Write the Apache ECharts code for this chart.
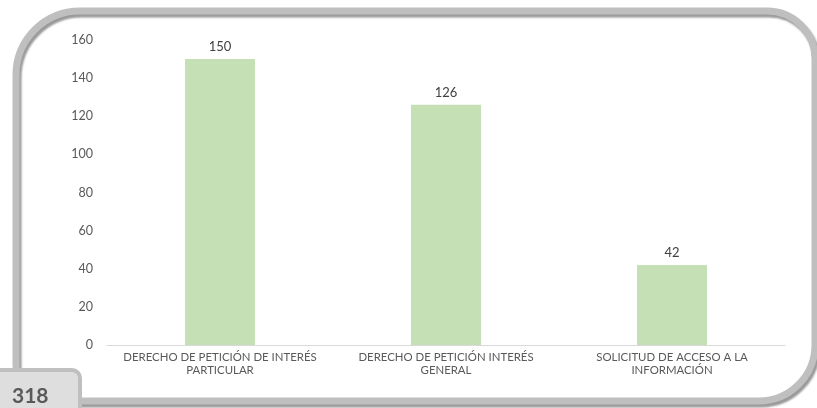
<!DOCTYPE html>
<html>
<head>
<meta charset="utf-8">
<script src="https://cdn.jsdelivr.net/npm/echarts@6/dist/echarts.min.js"></script>
<style>
html,body{margin:0;padding:0;background:#fff;}
#c{width:817px;height:408px;}
</style>
</head>
<body>
<div id="c"></div>
<script>
const categories = [
  "DERECHO DE PETICIÓN DE INTERÉS\nPARTICULAR",
  "DERECHO DE PETICIÓN INTERÉS\nGENERAL",
  "SOLICITUD DE ACCESO A LA\nINFORMACIÓN"
];
const values = [150, 126, 42];
const yTicks = { min: 0, max: 160, interval: 20 };
const pageNumber = "318";

const chart = echarts.init(document.getElementById('c'), null, { renderer: 'canvas' });
chart.setOption({
  backgroundColor: '#ffffff',
  animation: false,
  grid: { left: 107, right: 32, top: 40, bottom: 63 },
  xAxis: {
    type: 'category',
    data: categories,
    axisLine: { show: true, lineStyle: { color: '#d9d9d9', width: 1 } },
    axisTick: { show: false },
    axisLabel: {
      color: '#595959', fontFamily: 'Lato', fontSize: 11.4, lineHeight: 13,
      margin: 6, interval: 0
    }
  },
  yAxis: {
    type: 'value',
    min: yTicks.min, max: yTicks.max, interval: yTicks.interval,
    axisLine: { show: false },
    axisTick: { show: false },
    splitLine: { show: false },
    axisLabel: { color: '#595959', fontFamily: 'Lato', fontSize: 12.5, margin: 14 }
  },
  series: [{
    type: 'bar',
    data: values,
    barWidth: '31%',
    itemStyle: { color: '#c5e0b4' },
    label: {
      show: true, position: 'top', distance: 6,
      color: '#404040', fontFamily: 'Lato', fontSize: 13
    }
  }],
  graphic: [
    {
      type: 'rect', z: 100, silent: true,
      shape: { x: 16, y: 11, width: 799, height: 390, r: [64, 48, 56, 36] },
      style: {
        fill: 'none', stroke: '#bfbfbf', lineWidth: 7,
        shadowColor: 'rgba(0,0,0,0.4)', shadowBlur: 2, shadowOffsetX: 2, shadowOffsetY: 3
      }
    },
    {
      type: 'rect', z: 101, silent: true,
      shape: { x: -6, y: 370, width: 86, height: 50, r: [0, 8, 0, 0] },
      style: { fill: '#dedede', stroke: '#bfbfbf', lineWidth: 4 }
    },
    {
      type: 'text', z: 102, silent: true,
      style: {
        x: 12, y: 396, text: pageNumber, textVerticalAlign: 'middle',
        fill: '#595959', fontFamily: 'Lato', fontWeight: 'bold', fontSize: 21
      }
    }
  ]
});
</script>
</body>
</html>
